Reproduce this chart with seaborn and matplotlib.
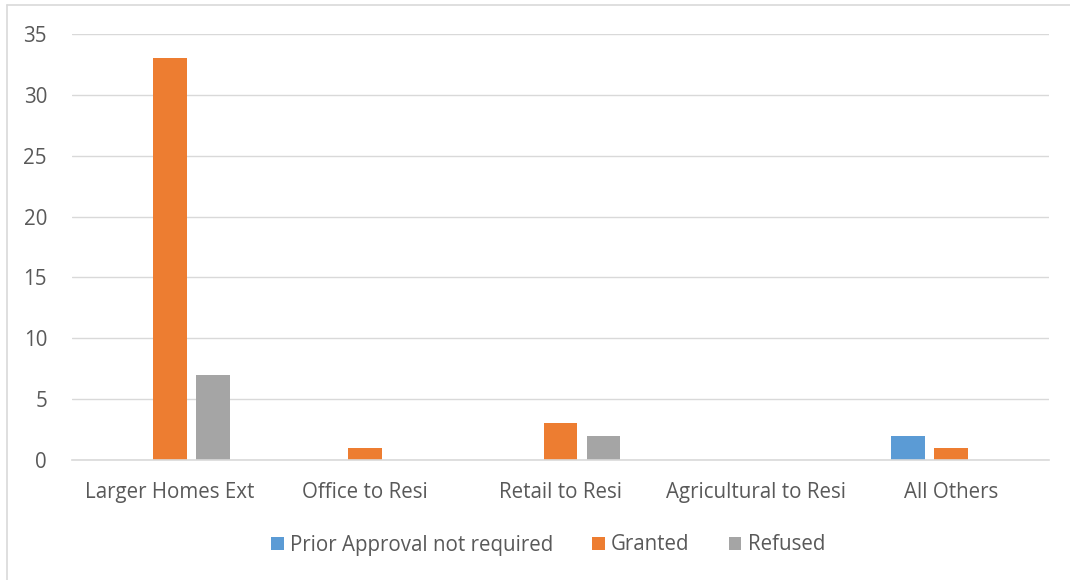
import pandas as pd
import matplotlib.pyplot as plt
import seaborn as sns
from matplotlib.patches import Patch
from matplotlib.lines import Line2D

categories = ["Larger Homes Ext", "Office to Resi", "Retail to Resi",
              "Agricultural to Resi", "All Others"]
series = ["Prior Approval not required", "Granted", "Refused"]
prior_approval = [0, 0, 0, 0, 2]
granted = [33, 1, 3, 0, 1]
refused = [7, 0, 2, 0, 0]
colors = ["#5B9BD5", "#ED7D31", "#A5A5A5"]

df = pd.DataFrame({
    "Category": categories * 3,
    "Series": [series[0]] * 5 + [series[1]] * 5 + [series[2]] * 5,
    "Value": prior_approval + granted + refused,
})

sns.set_style("white")
plt.rcParams["font.family"] = ["Open Sans", "DejaVu Sans"]

fig = plt.figure(figsize=(10.7, 5.8), dpi=100)
ax = fig.add_axes([72 / 1070, 1 - 460 / 580, (1049 - 72) / 1070, (460 - 34) / 580])

sns.barplot(data=df, x="Category", y="Value", hue="Series", hue_order=series,
            palette=colors, width=0.66, gap=0.21, ax=ax, legend=False,
            saturation=1, linewidth=0)

ax.set_ylim(0, 35)
ax.set_yticks(range(0, 36, 5))
ax.set_xlim(-0.5, 4.5)
ax.set_xlabel("")
ax.set_ylabel("")
ax.grid(axis="y", color="#D9D9D9", linewidth=1)
ax.set_axisbelow(True)
for s in ["top", "right", "left"]:
    ax.spines[s].set_visible(False)
ax.spines["bottom"].set_color("#D9D9D9")
ax.spines["bottom"].set_linewidth(1.2)
ax.tick_params(axis="both", length=0, labelsize=14.8, colors="#595959")
ax.tick_params(axis="x", pad=16)
ax.tick_params(axis="y", pad=18)

handles = [Patch(facecolor=c, edgecolor="none") for c in colors]
fig.legend(handles, series, loc="center", bbox_to_anchor=(548 / 1070, 1 - 545 / 580),
           ncol=3, frameon=False, fontsize=14.8, handlelength=0.62,
           handleheight=0.62, handletextpad=0.3, columnspacing=1.9,
           labelcolor="#595959")

# outer chart border (top and left edges visible)
fig.add_artist(Line2D([7 / 1070, 1], [1 - 5 / 580, 1 - 5 / 580],
                      transform=fig.transFigure, color="#D9D9D9", linewidth=1.2))
fig.add_artist(Line2D([7 / 1070, 7 / 1070], [0, 1 - 5 / 580],
                      transform=fig.transFigure, color="#D9D9D9", linewidth=1.2))

fig.savefig("out.png", dpi=100)
plt.close(fig)
